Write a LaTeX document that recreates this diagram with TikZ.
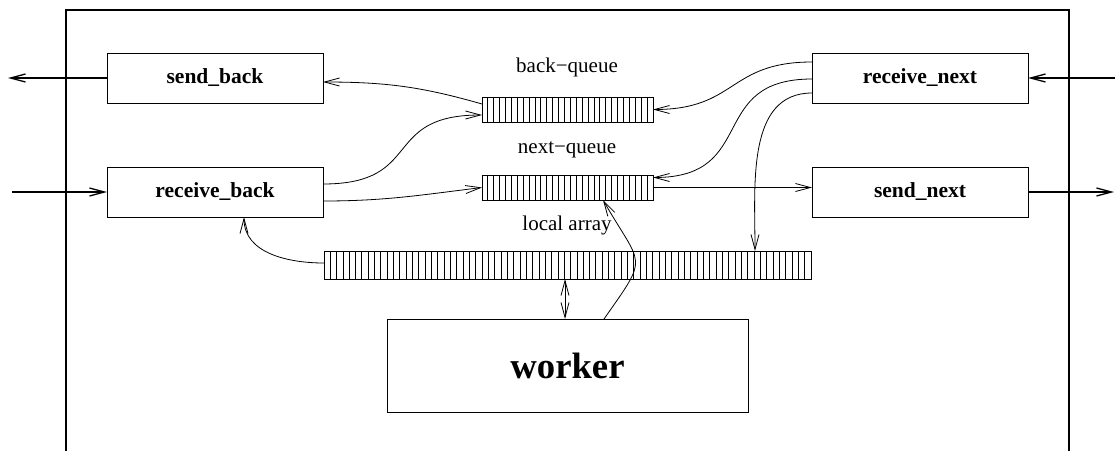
\documentclass[tikz,border=0pt]{standalone}
\usepackage{fontspec}
\setmainfont{Liberation Serif}
\usetikzlibrary{arrows.meta,calc}
\begin{document}
\begin{tikzpicture}[x=1pt,y=1pt,
  every node/.style={inner sep=0pt, outer sep=0pt},
  task/.style={draw, line width=0.9pt, minimum width=216pt, minimum height=50pt,
    font=\fontsize{21.5}{24}\selectfont\bfseries},
  buffer/.style={draw, line width=0.9pt, minimum height=25pt},
  cell/.style={line width=0.95pt},
  tag/.style={font=\fontsize{21}{24}\selectfont},
  barb/.tip={Straight Barb[length=15pt,width=8pt]},
  flow/.style={line width=0.8pt, -barb},
  port/.style={line width=1.3pt, -barb},
]
\useasboundingbox (0,0) rectangle (1115,-451);

% enclosing process frame (open at the bottom)
\draw[line width=1.6pt] (66,-451) -- (66,-10) -- (1069,-10) -- (1069,-451);

% communication tasks
\node[task] (sb) at (215,-78)  {send\_back};
\node[task] (rb) at (215,-192) {receive\_back};
\node[task] (rn) at (920,-78)  {receive\_next};
\node[task] (sn) at (920,-192) {send\_next};

% worker
\node[draw, line width=0.9pt, minimum width=361pt, minimum height=93pt,
  font=\fontsize{36.7}{40}\selectfont\bfseries] (wk) at (567.5,-365.5) {worker};

% queues and local array
\node[buffer, minimum width=171pt] (bq) at (567.5,-109.5) {};
\node[buffer, minimum width=171pt] (nq) at (567.5,-187.5) {};
\node[buffer, minimum width=487pt, minimum height=28pt] (la) at (567.5,-265) {};
\foreach \i in {1,...,28} {
  \draw[cell] ($(bq.south west)!\i/29!(bq.south east)$) -- ($(bq.north west)!\i/29!(bq.north east)$);
  \draw[cell] ($(nq.south west)!\i/29!(nq.south east)$) -- ($(nq.north west)!\i/29!(nq.north east)$);
}
\foreach \i in {1,...,76}
  \draw[cell] ($(la.south west)!\i/77!(la.south east)$) -- ($(la.north west)!\i/77!(la.north east)$);

\node[tag] (bql) at (567,-67)  {back−queue};
\node[tag] (nql) at (567,-150) {next−queue};
\node[tag] (lal) at (567,-225) {local array};

% links to the neighbouring processes
\coordinate (westout) at (8,-78);
\coordinate (westin)  at (12,-192);
\coordinate (eastin)  at (1115,-78);
\coordinate (eastout) at (1114,-192);
\draw[port] (sb.west) -- (westout);
\draw[port] (westin) -- (rb.west);
\draw[port] (eastin) -- (rn.east);
\draw[port] (sn.east) -- (eastout);

% internal data flow
\draw[flow] ([yshift=5.5pt]bq.west) to[out=164,in=0] ([yshift=-4pt]sb.east);
\draw[flow] ([yshift=8pt]rb.east) to[out=0,in=180,looseness=1.5] ([yshift=-5.5pt]bq.west);
\draw[flow] ([yshift=-9pt]rb.east) to[out=0,in=187] (nq.west);
\draw[flow] ([yshift=16pt]rn.west) to[out=180,in=0,looseness=1.3] (bq.east);
\draw[flow] ([yshift=-1pt]rn.west) to[out=180,in=0,looseness=1.45] ([yshift=10pt]nq.east);
\draw[flow] ([yshift=-15pt]rn.west) to[out=180,in=90] ([xshift=187.5pt]la.north);
\draw[flow] (nq.east) -- (nq.east -| sn.west);
\draw[flow] ([xshift=36.5pt]wk.north) to[out=55,in=-60,looseness=1.7] ([xshift=35.5pt]nq.south);
\draw[flow] ([yshift=2pt]la.west) to[out=180,in=-90] ([xshift=29pt]rb.south);
\draw[flow, barb-barb] ([xshift=-2.5pt]la.south) -- ([xshift=-2.5pt]la.south |- wk.north);
\end{tikzpicture}
\end{document}
